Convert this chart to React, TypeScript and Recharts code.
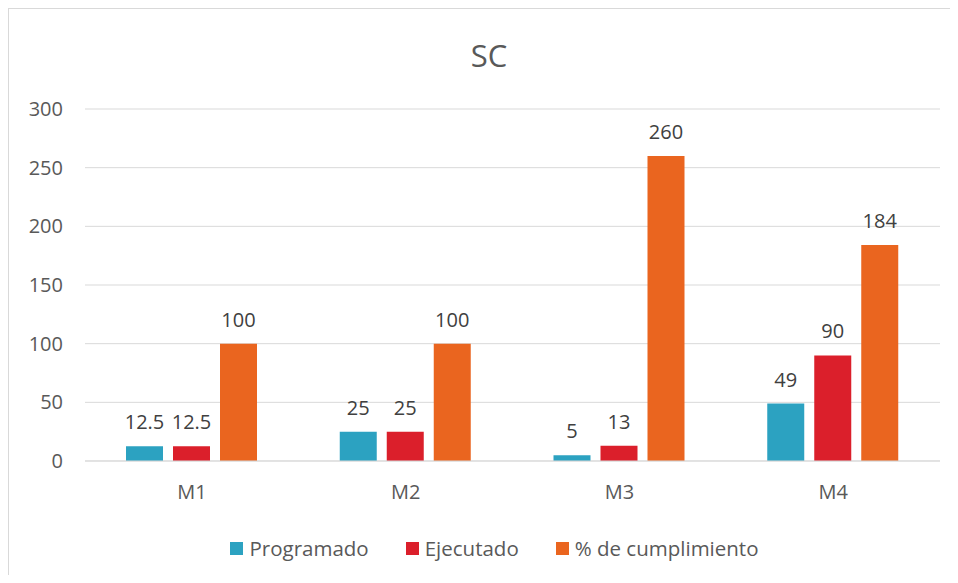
import React from 'react';
import { BarChart, Bar, XAxis, YAxis, CartesianGrid, LabelList, Legend } from 'recharts';

const categories = ['M1', 'M2', 'M3', 'M4'];
const programado = [12.5, 25, 5, 49];
const ejecutado = [12.5, 25, 13, 90];
const cumplimiento = [100, 100, 260, 184];
const yTicks = [0, 50, 100, 150, 200, 250, 300];
const seriesNames = ['Programado', 'Ejecutado', '% de cumplimiento'];
const seriesColors = ['#2CA2C1', '#DB1F2B', '#EA651F'];
const title = 'SC';

const data = categories.map((c, i) => ({
  name: c,
  programado: programado[i],
  ejecutado: ejecutado[i],
  cumplimiento: cumplimiento[i],
}));

const FONT = '"Open Sans", "Noto Sans", sans-serif';

const LegendContent = () => (
  <div style={{ display: 'flex', justifyContent: 'center', alignItems: 'center', fontFamily: FONT, fontSize: 20.5, color: '#595959' }}>
    {seriesNames.map((n, i) => (
      <div key={n} style={{ display: 'flex', alignItems: 'center', marginRight: i < seriesNames.length - 1 ? 37 : 0 }}>
        <span style={{ display: 'inline-block', width: 13, height: 13, background: seriesColors[i], marginRight: 6 }} />
        <span>{n}</span>
      </div>
    ))}
  </div>
);

export default function App() {
  const keys = ['programado', 'ejecutado', 'cumplimiento'];
  return (
    <div style={{ width: 942, height: 567, boxSizing: 'border-box', borderTop: '1px solid #D9D9D9', borderLeft: '1px solid #D9D9D9', position: 'relative', background: '#fff' }}>
      <BarChart
        width={941}
        height={566}
        data={data}
        margin={{ top: 100, right: 10, left: 0, bottom: 0 }}
        barSize={37}
        barGap={10}
        style={{ fontFamily: FONT }}
      >
        <text x={480} y={46} textAnchor="middle" dominantBaseline="central" fontSize={31} fill="#595959" fontFamily={FONT}>
          {title}
        </text>
        <CartesianGrid vertical={false} stroke="#D9D9D9" strokeWidth={1} />
        <XAxis
          dataKey="name"
          axisLine={{ stroke: '#D9D9D9' }}
          tickLine={false}
          tickSize={6}
          tickMargin={18}
          height={114}
          tick={{ fill: '#595959', fontSize: 20, fontFamily: FONT }}
        />
        <YAxis
          domain={[0, 300]}
          ticks={yTicks}
          axisLine={false}
          tickLine={false}
          tickSize={6}
          tickMargin={16}
          width={76}
          interval={0}
          tick={{ fill: '#595959', fontSize: 20, fontFamily: FONT }}
        />
        <Legend
          layout="horizontal"
          verticalAlign="middle"
          align="center"
          content={<LegendContent />}
          wrapperStyle={{ top: 525, left: 0, width: 971 }}
        />
        {keys.map((k, i) => (
          <Bar key={k} dataKey={k} name={seriesNames[i]} fill={seriesColors[i]} isAnimationActive={false}>
            <LabelList dataKey={k} position="top" offset={17} fill="#404040" fontSize={20} fontFamily={FONT} />
          </Bar>
        ))}
      </BarChart>
    </div>
  );
}
